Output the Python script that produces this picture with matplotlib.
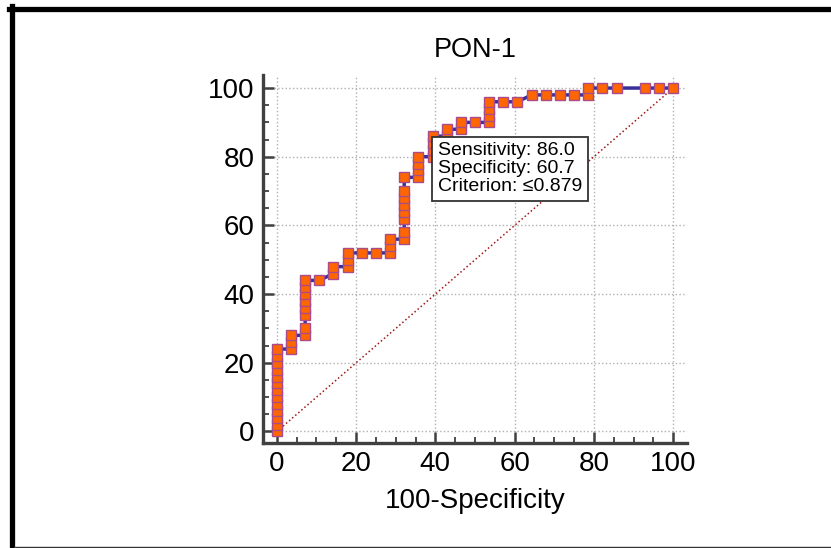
import matplotlib
matplotlib.use("Agg")
import matplotlib.pyplot as plt
from matplotlib.lines import Line2D
from matplotlib.ticker import MultipleLocator

plt.rcParams['font.family'] = ['Liberation Sans', 'DejaVu Sans']

# ROC points (100-Specificity, Sensitivity)
fpr = [0, 0, 0, 0, 0, 0, 0, 0, 0, 0, 0, 0, 0,
       3.57, 3.57, 3.57,
       7.14, 7.14, 7.14, 7.14, 7.14, 7.14, 7.14, 7.14,
       10.71,
       14.29, 14.29,
       17.86, 17.86, 17.86,
       21.43, 25.0,
       28.57, 28.57, 28.57,
       32.14, 32.14, 32.14, 32.14, 32.14, 32.14, 32.14, 32.14,
       35.71, 35.71, 35.71, 35.71,
       39.29, 39.29, 39.29, 39.29,
       42.86, 42.86,
       46.43, 46.43,
       50.0,
       53.57, 53.57, 53.57, 53.57,
       57.14, 60.71,
       64.29, 67.86, 71.43, 75.0,
       78.57, 78.57,
       82.14, 85.71, 92.86, 96.43, 100.0]
tpr = [0, 2, 4, 6, 8, 10, 12, 14, 16, 18, 20, 22, 24,
       24, 26, 28,
       28, 30, 34, 36, 38, 40, 42, 44,
       44,
       46, 48,
       48, 50, 52,
       52, 52,
       52, 54, 56,
       56, 58, 62, 64, 66, 68, 70, 74,
       74, 76, 78, 80,
       80, 82, 84, 86,
       86, 88,
       88, 90,
       90,
       90, 92, 94, 96,
       96, 96,
       98, 98, 98, 98,
       98, 100,
       100, 100, 100, 100, 100]

title = "PON-1"
xlabel = "100-Specificity"
cut_x, cut_y = 39.29, 86.0
box_lines = ["Sensitivity: 86.0", "Specificity: 60.7", "Criterion: \u22640.879"]

fig = plt.figure(figsize=(8.31, 5.48), dpi=100)
ax = fig.add_axes([263 / 831, 1 - 443 / 548, (687 - 263) / 831, (443 - 75) / 548])

ax.plot([0, 100], [0, 100], color='#a01515', linestyle=':', linewidth=1.1, zorder=2)
ax.plot(fpr, tpr, color='#3a2f9a', linewidth=2.5, marker='s', markersize=7.5,
        markerfacecolor='#ff6600', markeredgecolor='#a84c8c', markeredgewidth=1,
        zorder=3)

ax.set_xlim(-3.5, 103.5)
ax.set_ylim(-3.35, 103.8)
ax.xaxis.set_major_locator(MultipleLocator(20))
ax.yaxis.set_major_locator(MultipleLocator(20))
ax.xaxis.set_minor_locator(MultipleLocator(5))
ax.yaxis.set_minor_locator(MultipleLocator(5))
ax.grid(True, which='major', color='#b0b0b0', linestyle=':', linewidth=1, zorder=1)

for side in ['top', 'right']:
    ax.spines[side].set_visible(False)
for side in ['left', 'bottom']:
    ax.spines[side].set_linewidth(2.4)
    ax.spines[side].set_color('#404040')

ax.tick_params(which='major', direction='in', length=8, width=1.8, color='#404040',
               labelsize=20, pad=6)
ax.tick_params(which='minor', direction='in', length=4, width=1.3, color='#404040')

ax.set_title(title, fontsize=19.5, pad=13)
ax.set_xlabel(xlabel, fontsize=20, labelpad=8)

ax.annotate("\n".join(box_lines), xy=(cut_x, cut_y), xytext=(4, -4.5),
            textcoords='offset points', ha='left', va='top', fontsize=14,
            linespacing=1.05, zorder=5,
            bbox=dict(boxstyle='square,pad=0.3', facecolor='white',
                      edgecolor='#333333', linewidth=1.3))

# outer frame (cropped at right side)
W, H = 831, 548
fig.add_artist(Line2D([11.7 / W, 11.7 / W], [0, 1 - 6 / H], color='black', linewidth=3.8))
fig.add_artist(Line2D([9 / W, 1], [1 - 8.7 / H, 1 - 8.7 / H], color='black', linewidth=3.8))
fig.add_artist(Line2D([14 / W, 1], [1 - 546.5 / H, 1 - 546.5 / H], color='#333333', linewidth=1))

fig.savefig("out.png", dpi=100)
